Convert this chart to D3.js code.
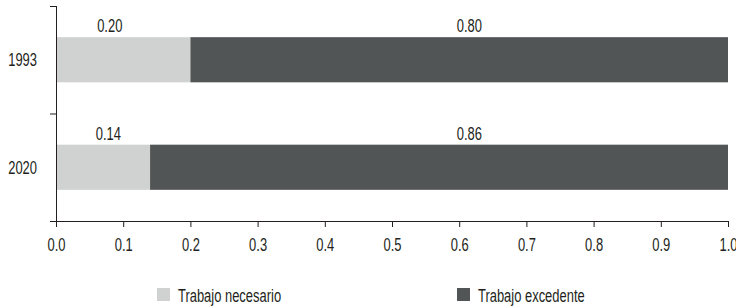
<!DOCTYPE html>
<html>
<head>
<meta charset="utf-8">
<script src="https://cdn.jsdelivr.net/npm/d3@7"></script>
<style>
  body { margin: 0; background: #fff; }
  svg text { font-family: "Liberation Sans", Arial, sans-serif; fill: #231f20; }
</style>
</head>
<body>
<div id="chart"></div>
<script>

const years = ["1993", "2020"];
const necesario = [0.20, 0.14];
const excedente = [0.80, 0.86];
const series = ["Trabajo necesario", "Trabajo excedente"];
const xTicks = [0, 0.1, 0.2, 0.3, 0.4, 0.5, 0.6, 0.7, 0.8, 0.9, 1.0];

const colors = ["#d0d2d1", "#515555"];

const width = 736, height = 308;
const margin = { top: 6, right: 8, bottom: 87, left: 56 };
const fs = 18.5;      // font size
const sx = 0.70;      // horizontal squeeze, the original uses a condensed face

const svg = d3.select("#chart")
    .append("svg")
    .attr("width", width)
    .attr("height", height);

// text helper: condensed look via scale on a group
function label(parent, px, py, str, anchor) {
    return parent.append("g")
        .attr("transform", `translate(${px},${py}) scale(${sx},1)`)
        .append("text")
        .attr("text-anchor", anchor || "start")
        .attr("font-size", fs)
        .text(str);
}

const x = d3.scaleLinear()
    .domain([0, 1])
    .range([margin.left, width - margin.right]);

const y = d3.scaleBand()
    .domain(years)
    .range([margin.top, height - margin.bottom])
    .paddingInner(0.58)
    .paddingOuter(0.29);

const rows = years.map((yr, i) => ({ year: yr, vals: [necesario[i], excedente[i]] }));

// stacked bars
rows.forEach(function (r) {
    let start = 0;
    r.vals.forEach(function (v, j) {
        svg.append("rect")
            .attr("x", x(start))
            .attr("y", y(r.year))
            .attr("width", x(start + v) - x(start))
            .attr("height", y.bandwidth())
            .attr("fill", colors[j]);
        start += v;
    });
});

// value labels (placed a bit off the segment centre like the original)
const labelAt = [[0.08, 0.615], [0.078, 0.615]];
rows.forEach(function (r, i) {
    r.vals.forEach(function (v, j) {
        label(svg, x(labelAt[i][j]), y(r.year) - 5, v.toFixed(2), "middle");
    });
});

// x axis
const xAxis = svg.append("g")
    .attr("transform", `translate(0,${height - margin.bottom})`)
    .call(d3.axisBottom(x).tickValues(xTicks).tickFormat(d3.format(".1f")).tickSize(6).tickSizeOuter(0));
xAxis.select(".domain").attr("stroke", "#231f20").attr("d", `M${margin.left - 6},0.5H${x(1)}`);
xAxis.selectAll(".tick line").attr("stroke", "#231f20");
xAxis.selectAll(".tick text")
    .attr("font-size", fs)
    .attr("fill", "#231f20")
    .attr("y", 17)
    .attr("dy", "0.71em")
    .attr("transform", `scale(${sx},1)`);

// y axis: ticks on band boundaries
const bounds = [margin.top, margin.top + (height - margin.bottom - margin.top) / 2];
const yAxis = svg.append("g");
yAxis.append("line")
    .attr("x1", margin.left + 0.5).attr("x2", margin.left + 0.5)
    .attr("y1", margin.top).attr("y2", height - margin.bottom)
    .attr("stroke", "#231f20");
yAxis.selectAll("line.bt")
    .data(bounds)
    .enter().append("line")
    .attr("class", "bt")
    .attr("x1", margin.left - 6).attr("x2", margin.left)
    .attr("y1", d => d + 0.5).attr("y2", d => d + 0.5)
    .attr("stroke", "#231f20");
years.forEach(function (d) {
    label(yAxis, margin.left - 19, y(d) + y.bandwidth() / 2 + 6.6, d, "end");
});

// legend
const legX = [157, 457];
series.forEach(function (s, i) {
    const g = svg.append("g")
        .attr("class", "leg")
        .attr("transform", `translate(${legX[i]},288)`);
    g.append("rect")
        .attr("width", 13).attr("height", 13)
        .attr("fill", colors[i]);
    label(g, 21, 13.5, s, "start");
});

</script>
</body>
</html>
